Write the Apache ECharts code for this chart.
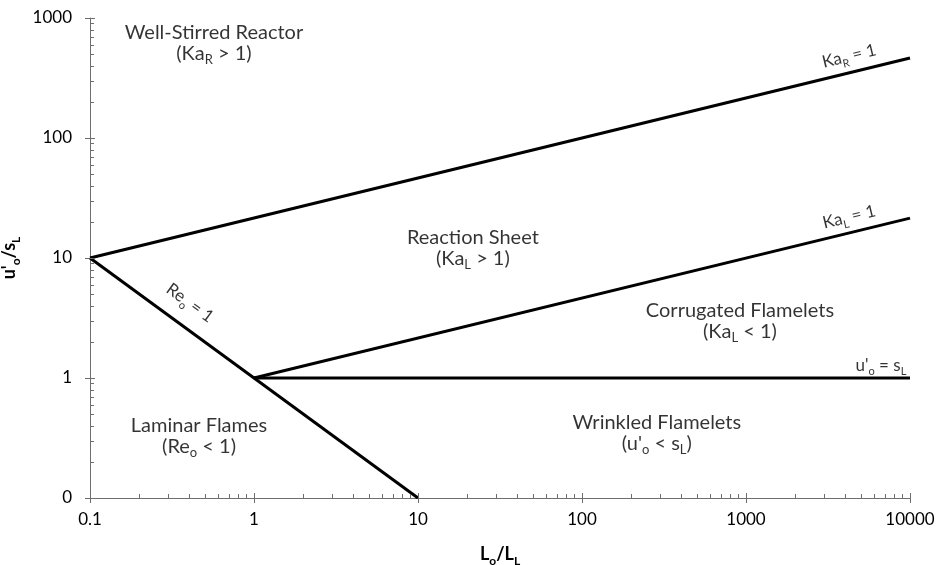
<!DOCTYPE html>
<html>
<head>
<meta charset="utf-8">
<script src="https://cdn.jsdelivr.net/npm/echarts@6/dist/echarts.min.js"></script>
<style>
html,body{margin:0;padding:0;background:#fff;}
#chart{width:937px;height:565px;}
</style>
</head>
<body>
<div id="chart"></div>
<script>
// ---- data ----
const xTickLabels = ['0.1', '1', '10', '100', '1000', '10000'];
const yTickLabels = ['0', '1', '10', '100', '1000'];
const decades = [0.1, 1, 10, 100, 1000];
const minorMultipliers = [2, 3, 4, 5, 6, 7, 8, 9];

const kaR = [[0.1, 10], [10000, 464]];       // Ka_R = 1
const kaL = [[1, 1], [10000, 21.5]];         // Ka_L = 1
const uEqS = [[1, 1], [10000, 1]];           // u'o = sL
const reO = [[0.1, 10], [10, 0.1]];          // Re_o = 1

// region labels: title line + condition line, anchored in data space
const regionTitles = ['Well-Stirred Reactor', 'Reaction Sheet', 'Corrugated Flamelets', 'Laminar Flames', 'Wrinkled Flamelets'];
const regionConds = ['(Ka{s|R} > 1)', '(Ka{s|L} > 1)', '(Ka{s|L} < 1)', '(Re{s|o} < 1)', '(u\'{s|o} < s{s|L})'];
const regionX = [0.570, 21.6, 919, 0.462, 286];
const regionY = [619, 12.2, 2.99, 0.329, 0.348];

// line labels
const lineLabelTexts = ['Ka{s|R} = 1', 'Ka{s|L} = 1', 'u\'{s|o} = s{s|L}', 'Re{s|o} = 1'];
const lineLabelX = [4250, 4250, 6650, 0.407];
const lineLabelY = [482, 22.0, 1.28, 4.22];
const lineLabelRotate = [13.7, 13.7, 0, -36];

// ---- styling ----
const FONT = 'Lato';
const axisColor = '#6e6e6e';
const REGION_SIZE = 20, LINE_SIZE = 17, LINE_GAP = 21;

function richFor(size, boxH) {
  return {
    n: { fontFamily: FONT, fontSize: size, lineHeight: boxH, verticalAlign: 'middle', color: '#000' },
    s: { fontFamily: FONT, fontSize: Math.round(size * 0.66), verticalAlign: 'bottom', color: '#000' }
  };
}
function wrapRich(text) {
  return text.split(/(\{s\|[^}]*\})/).filter(p => p.length).map(p => p.startsWith('{s|') ? p : '{n|' + p + '}').join('');
}
function labelItem(x, y, text, size, boxH, rotate, offsetY) {
  return {
    value: [x, y],
    label: {
      show: true,
      position: 'inside',
      formatter: wrapRich(text),
      rotate: rotate,
      offset: [0, offsetY],
      align: 'center',
      verticalAlign: 'middle',
      fontFamily: FONT,
      fontSize: size,
      color: '#000',
      textBorderWidth: 0,
      rich: richFor(size, boxH)
    }
  };
}

const labelData = [];
regionTitles.forEach((t, i) => {
  labelData.push(labelItem(regionX[i], regionY[i], t, REGION_SIZE, 26, 0, -LINE_GAP / 2));
  labelData.push(labelItem(regionX[i], regionY[i], regionConds[i], REGION_SIZE, 26, 0, LINE_GAP / 2));
});
lineLabelTexts.forEach((t, i) => {
  labelData.push(labelItem(lineLabelX[i], lineLabelY[i], t, LINE_SIZE, 24, lineLabelRotate[i], 0));
});

// minor + inner major tick marks (drawn through the axes' own scales)
const tickData = [];
decades.concat([10000]).forEach(d => {
  tickData.push([d, 0.1, 0, 5]);
  if (d < 10000) minorMultipliers.forEach(m => tickData.push([d * m, 0.1, 0, 4]));
});
decades.forEach(d => {
  tickData.push([0.1, d, 1, 5]);
  if (d < 1000) minorMultipliers.forEach(m => tickData.push([0.1, d * m, 1, 4]));
});

const lineStyle = { color: '#000', width: 3 };
function lineSeries(name, data) {
  return {
    name, type: 'line', data, showSymbol: false, symbol: 'none',
    lineStyle, itemStyle: { color: '#000' }, silent: true, animation: false, z: 3
  };
}

const nameRich = { s: { fontFamily: FONT, fontSize: 12, fontWeight: 'bold', verticalAlign: 'bottom', color: '#000' } };

const chart = echarts.init(document.getElementById('chart'), null, { renderer: 'canvas' });
chart.setOption({
  backgroundColor: '#fff',
  animation: false,
  grid: { left: 90, right: 27, top: 18, bottom: 67, containLabel: false, outerBoundsMode: 'none' },
  xAxis: {
    type: 'log', logBase: 10, min: 0.1, max: 10000,
    axisLine: { lineStyle: { color: axisColor, width: 1 } },
    axisTick: { show: true, length: 5, inside: false, lineStyle: { color: axisColor } },
    splitLine: { show: false },
    minorTick: { show: false },
    axisLabel: {
      formatter: (v, i) => xTickLabels[i] !== undefined ? xTickLabels[i] : '',
      fontFamily: FONT, fontSize: 17, color: '#000', margin: 13
    },
    name: 'L{s|o}/L{s|L}',
    nameLocation: 'middle',
    nameGap: 44,
    nameTextStyle: { fontFamily: FONT, fontSize: 18, fontWeight: 'bold', color: '#000', lineHeight: 25, rich: nameRich }
  },
  yAxis: {
    type: 'log', logBase: 10, min: 0.1, max: 1000,
    axisLine: { lineStyle: { color: axisColor, width: 1 } },
    axisTick: { show: true, length: 5, inside: false, lineStyle: { color: axisColor } },
    splitLine: { show: false },
    minorTick: { show: false },
    axisLabel: {
      formatter: (v, i) => yTickLabels[i] !== undefined ? yTickLabels[i] : '',
      fontFamily: FONT, fontSize: 17, color: '#000', margin: 18
    },
    name: 'u\'{s|o}/s{s|L}',
    nameLocation: 'middle',
    nameRotate: 90,
    nameGap: 59,
    nameTextStyle: { fontFamily: FONT, fontSize: 18, fontWeight: 'bold', color: '#000', lineHeight: 25, rich: nameRich }
  },
  series: [
    lineSeries('KaR', kaR),
    lineSeries('KaL', kaL),
    lineSeries('uEqS', uEqS),
    lineSeries('Re', reO),
    {
      type: 'custom',
      silent: true,
      clip: false,
      z: 4,
      data: tickData,
      encode: { x: 0, y: 1 },
      renderItem: (params, api) => {
        const p = api.coord([api.value(0), api.value(1)]);
        const kind = api.value(2), len = api.value(3);
        let shape;
        if (kind === 0) {
          const x = Math.round(p[0]) + 0.5, y = Math.round(p[1]);
          shape = { x1: x, y1: y, x2: x, y2: y - len };
        } else {
          const x = Math.round(p[0]), y = Math.round(p[1]) + 0.5;
          shape = { x1: x, y1: y, x2: x + len, y2: y };
        }
        return { type: 'line', shape, style: { stroke: axisColor, lineWidth: 1 } };
      }
    },
    {
      type: 'scatter',
      silent: true,
      symbolSize: 0,
      z: 5,
      data: labelData
    }
  ]
});
</script>
</body>
</html>
